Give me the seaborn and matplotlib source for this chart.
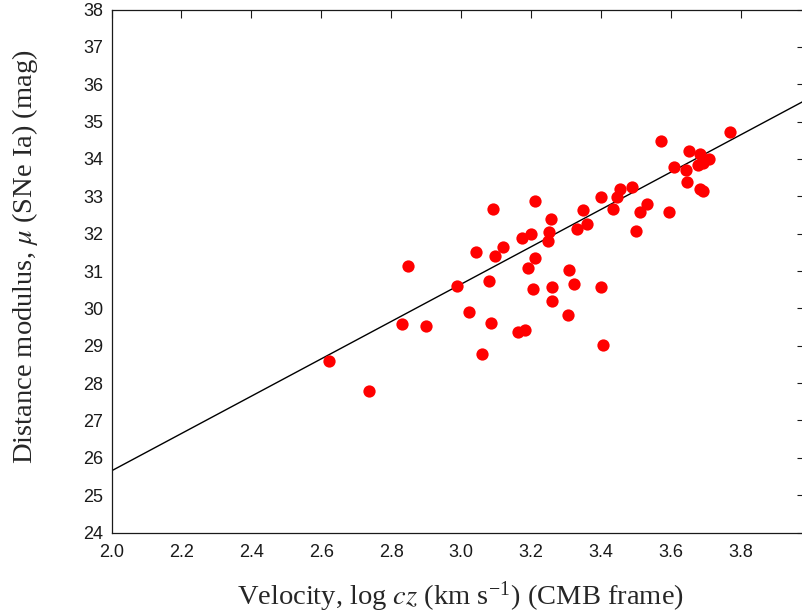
import matplotlib
matplotlib.use("Agg")
import matplotlib.pyplot as plt
from matplotlib import font_manager
import seaborn as sns
import pandas as pd

# ---- data ----
log_cz = [2.621, 2.735, 2.832, 2.848, 2.899, 2.988, 3.022, 3.043, 3.059, 3.080,
          3.085, 3.092, 3.098, 3.119, 3.161, 3.173, 3.183, 3.190, 3.199, 3.204,
          3.211, 3.211, 3.247, 3.250, 3.257, 3.260, 3.260, 3.306, 3.309, 3.322,
          3.331, 3.347, 3.359, 3.400, 3.400, 3.406, 3.435, 3.445, 3.454, 3.488,
          3.499, 3.511, 3.532, 3.571, 3.595, 3.607, 3.643, 3.645, 3.650, 3.676,
          3.683, 3.683, 3.690, 3.690, 3.709, 3.769]
mu = [28.60, 27.80, 29.58, 31.13, 29.53, 30.61, 29.90, 31.51, 28.78, 30.72,
      29.62, 32.67, 31.40, 31.64, 29.36, 31.88, 29.43, 31.08, 32.00, 30.51,
      32.87, 31.36, 31.80, 32.04, 32.40, 30.58, 30.21, 29.81, 31.04, 30.66,
      32.13, 32.64, 32.27, 30.57, 32.98, 29.03, 32.67, 32.98, 33.19, 33.25,
      32.07, 32.58, 32.79, 34.48, 32.58, 33.79, 33.70, 33.38, 34.21, 33.83,
      34.14, 33.19, 33.14, 33.90, 34.01, 34.72]
fit_x = [2.0, 4.0]
fit_y = [25.65, 35.65]

x_ticks = [2.0, 2.2, 2.4, 2.6, 2.8, 3.0, 3.2, 3.4, 3.6, 3.8]
y_ticks = list(range(24, 39))
x_label = r"Velocity, log $\mathit{cz}$ (km s$^{\mathregular{-1}}$) (CMB frame)"
y_label = r"Distance modulus, $\mu$ (SNe Ia) (mag)"

sns.set_style("white")
plt.rcParams["mathtext.fontset"] = "stix"
installed = {f.name for f in font_manager.fontManager.ttflist}
tick_family = [f for f in ["Liberation Sans Narrow", "Liberation Sans", "DejaVu Sans"] if f in installed]
plt.rcParams["font.family"] = tick_family

fig = plt.figure(figsize=(8.02, 6.13), dpi=100)
ax = fig.add_axes([111.5 / 802, (613 - 532.5) / 613, (805 - 111.5) / 802, (532.5 - 9.5) / 613])

df = pd.DataFrame({"log_cz": log_cz, "mu": mu})
fit = pd.DataFrame({"x": fit_x, "y": fit_y})

sns.lineplot(data=fit, x="x", y="y", ax=ax, color="black", linewidth=1.0)
sns.scatterplot(data=df, x="log_cz", y="mu", ax=ax, color="#ff0000", s=78,
                linewidth=0, zorder=3)

ax.set_xlim(2.0, 3.983)
ax.set_ylim(24, 38)
ax.set_xticks(x_ticks)
ax.set_xticklabels([f"{v:.1f}" for v in x_ticks])
ax.set_yticks(y_ticks)
ax.set_yticklabels([str(v) for v in y_ticks])

ax.tick_params(axis="both", direction="in", length=5.5, width=0.8,
               top=True, right=True, labelsize=13, colors="#1a1a1a")
ax.tick_params(axis="x", pad=8)
ax.tick_params(axis="y", pad=6)
for sp in ax.spines.values():
    sp.set_visible(True)
    sp.set_color("#1a1a1a")
    sp.set_linewidth(0.9)

xl = ax.set_xlabel(x_label, fontsize=20.5, family="Liberation Serif")
yl = ax.set_ylabel(y_label, fontsize=20.5, family="Liberation Serif")
xl.set_verticalalignment("center")
yl.set_verticalalignment("center")
ax.xaxis.set_label_coords(0.5025, (532.5 - 596) / 523)
ax.yaxis.set_label_coords((25 - 111.5) / 693.5, (532.5 - 257) / 523)

fig.savefig("out.png", dpi=100)
